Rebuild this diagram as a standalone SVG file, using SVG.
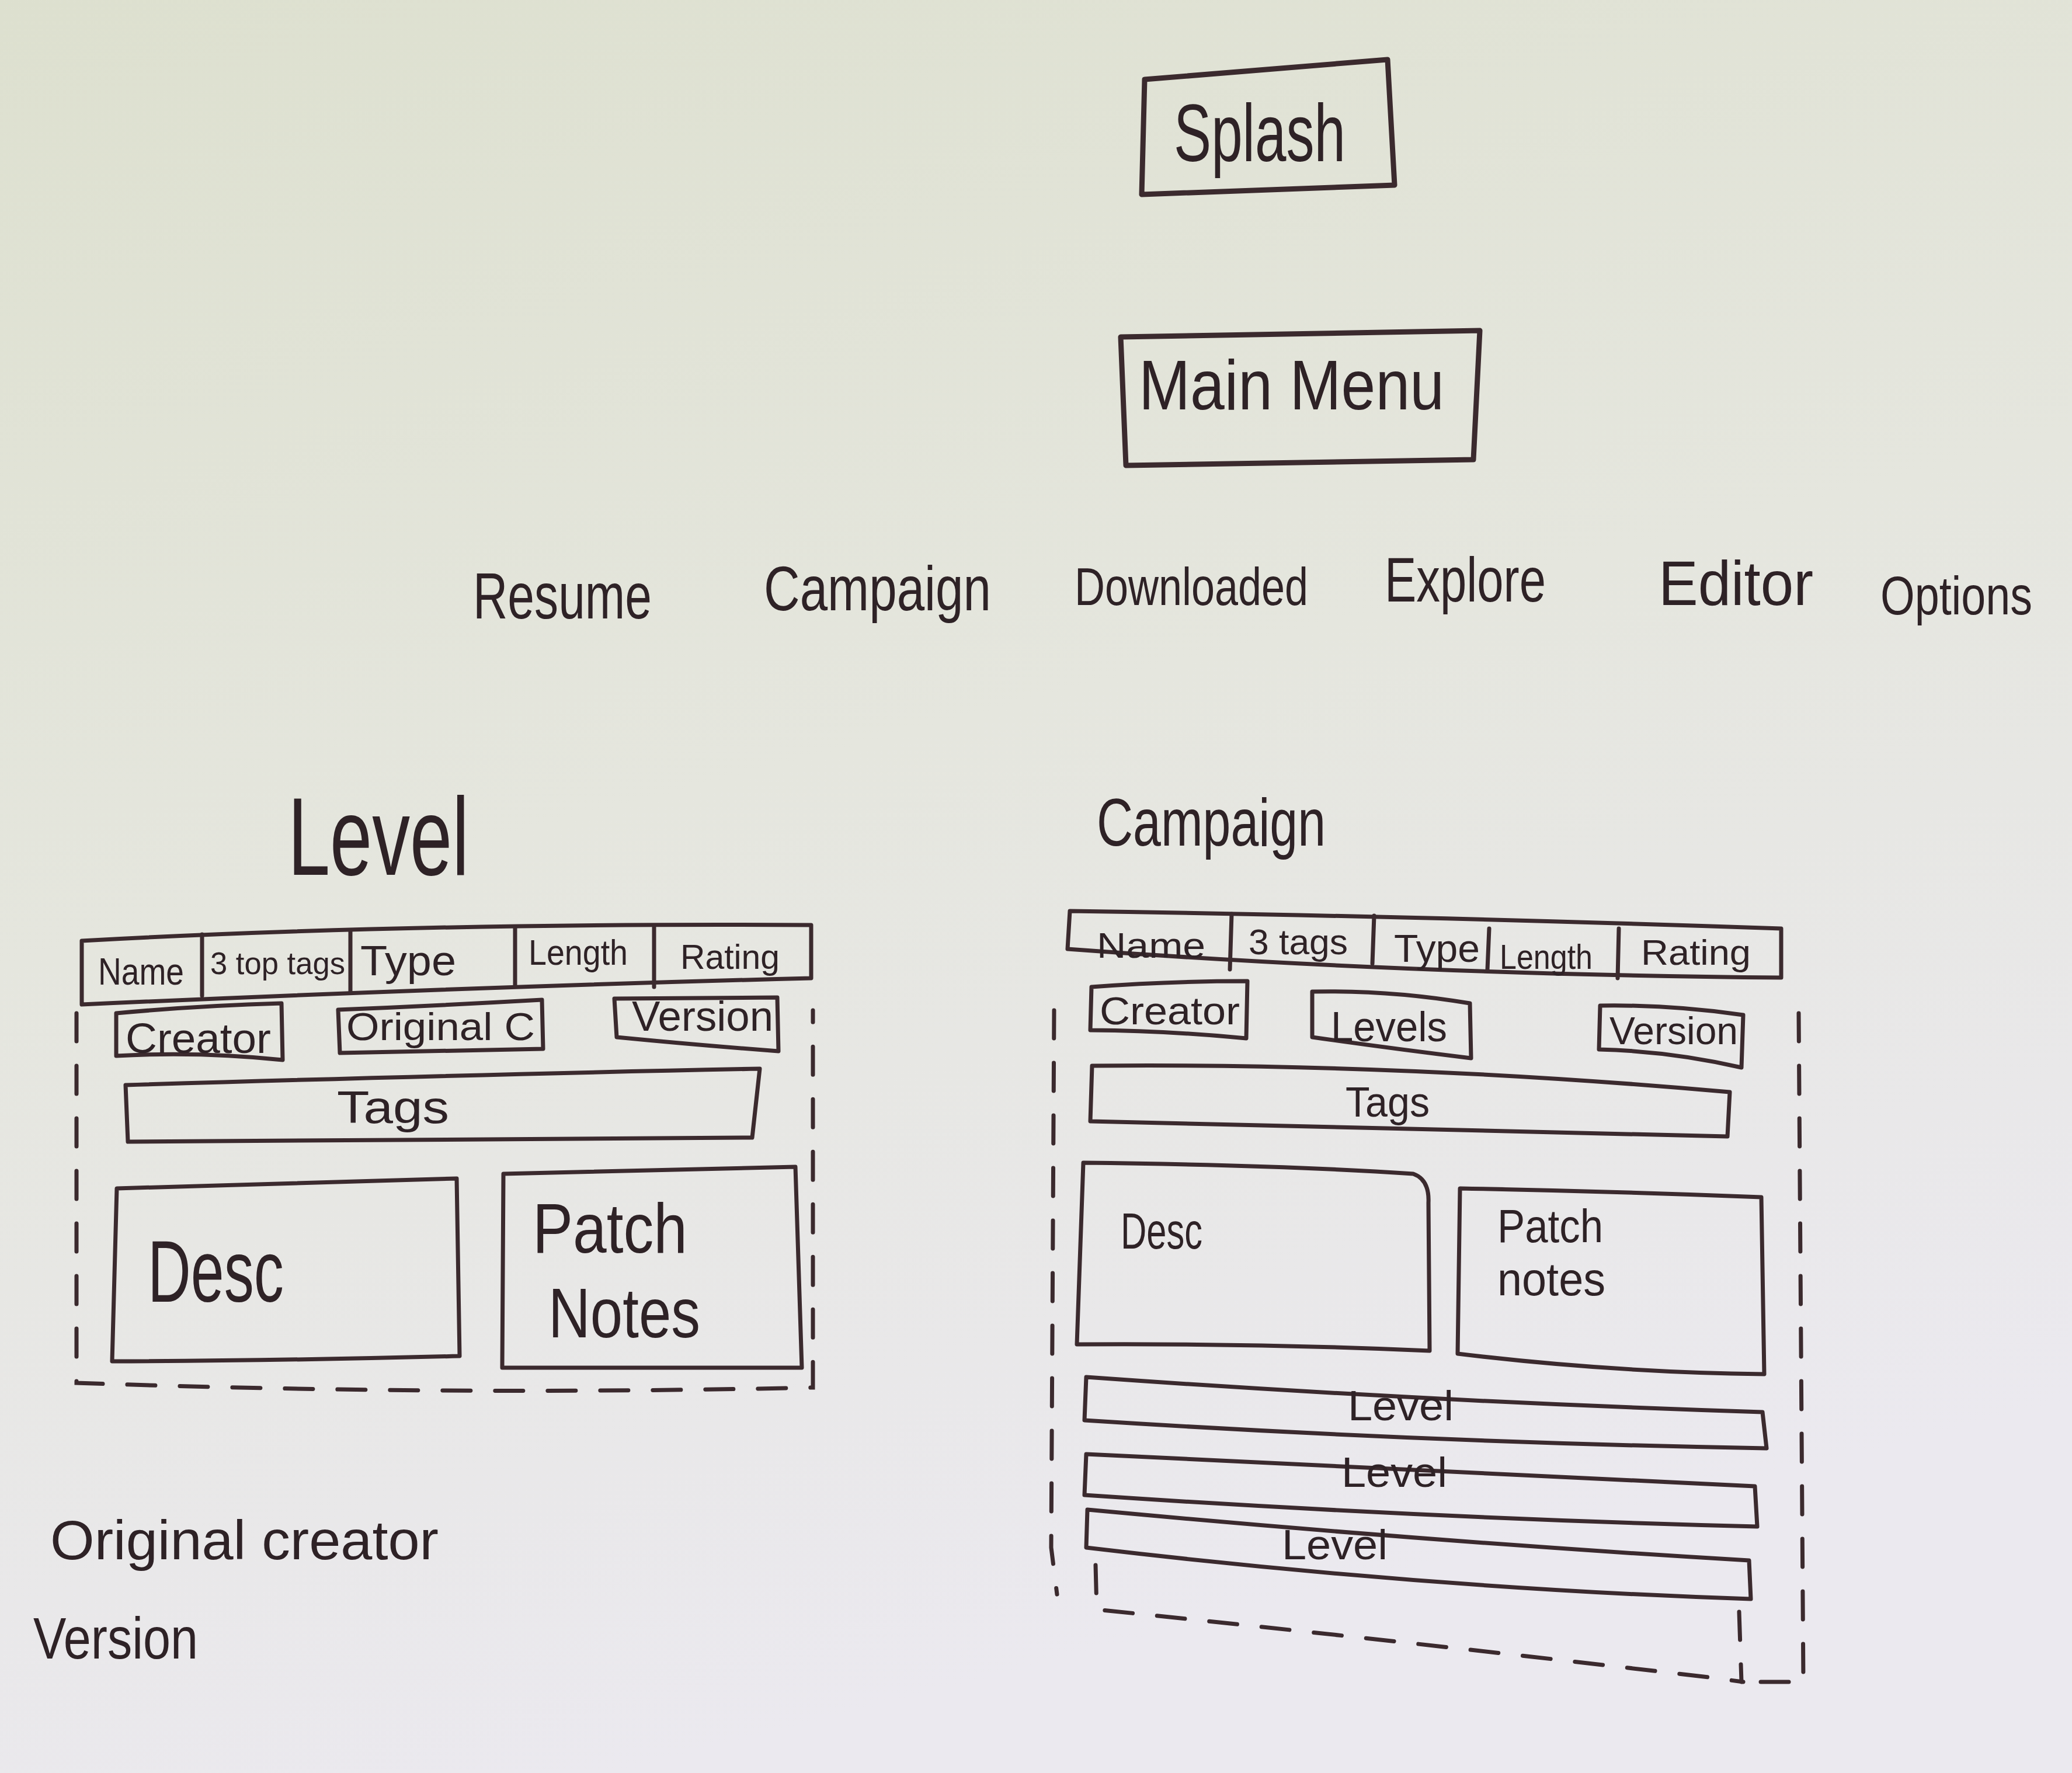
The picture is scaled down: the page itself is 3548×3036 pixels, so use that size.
<svg xmlns="http://www.w3.org/2000/svg" width="3548" height="3036" viewBox="0 0 3548 3036">
<defs>
<linearGradient id="bg" x1="0" y1="0" x2="0.3" y2="1">
<stop offset="0" stop-color="#dde0cf"/>
<stop offset="0.5" stop-color="#e5e6de"/>
<stop offset="1" stop-color="#ebe9ef"/>
</linearGradient>
</defs>
<style>
.ink{fill:none;stroke:#3b2a2e;stroke-width:7;stroke-linejoin:round;stroke-linecap:round}
.thick{stroke-width:9}
.dash{fill:none;stroke:#3b2a2e;stroke-width:7;stroke-dasharray:48 42;stroke-linecap:round}
text{font-family:"Liberation Sans","DejaVu Sans",sans-serif;fill:#2e2226}
</style>
<rect width="3548" height="3036" fill="url(#bg)"/>

<g id="splash">
<path class="ink thick" d="M1960,136 L2376,102 L2388,317 L1955,333 Z"/>
<text x="2010" y="276" font-size="140" textLength="294" lengthAdjust="spacingAndGlyphs">Splash</text>
</g>

<g id="main-menu">
<path class="ink thick" d="M1919,577 L2534,566 L2523,787 L1928,797 Z"/>
<text x="1950" y="701" font-size="120" textLength="523" lengthAdjust="spacingAndGlyphs">Main Menu</text>
</g>

<g id="menu-items">
<text x="810" y="1059" font-size="112" textLength="306" lengthAdjust="spacingAndGlyphs">Resume</text>
<text x="1308" y="1045" font-size="108" textLength="389" lengthAdjust="spacingAndGlyphs">Campaign</text>
<text x="1840" y="1036" font-size="90" textLength="400" lengthAdjust="spacingAndGlyphs">Downloaded</text>
<text x="2371" y="1030" font-size="108" textLength="276" lengthAdjust="spacingAndGlyphs">Explore</text>
<text x="2840" y="1036" font-size="108" textLength="265" lengthAdjust="spacingAndGlyphs">Editor</text>
<text x="3220" y="1052" font-size="92" textLength="260" lengthAdjust="spacingAndGlyphs">Options</text>
</g>

<g id="level-layout">
<text x="493" y="1498" font-size="190" textLength="310" lengthAdjust="spacingAndGlyphs">Level</text>
<path class="ink" d="M140,1611 Q700,1580 1389,1584 L1389,1675 Q800,1690 140,1720 Z"/>
<path class="ink" d="M346,1600 L346,1705 M600,1595 L600,1700 M882,1588 L882,1688 M1120,1588 L1120,1690"/>
<text x="168" y="1686" font-size="64" textLength="147" lengthAdjust="spacingAndGlyphs">Name</text>
<text x="360" y="1668" font-size="54" textLength="231" lengthAdjust="spacingAndGlyphs">3 top tags</text>
<text x="617" y="1670" font-size="72" textLength="164" lengthAdjust="spacingAndGlyphs">Type</text>
<text x="905" y="1652" font-size="62" textLength="170" lengthAdjust="spacingAndGlyphs">Length</text>
<text x="1165" y="1659" font-size="60" textLength="170" lengthAdjust="spacingAndGlyphs">Rating</text>
<path class="ink" d="M199,1735 Q340,1722 482,1718 L484,1815 Q340,1800 199,1808 Z"/>
<text x="215" y="1803" font-size="72" textLength="249" lengthAdjust="spacingAndGlyphs">Creator</text>
<path class="ink" d="M579,1729 Q750,1722 928,1712 L930,1796 Q750,1800 582,1803 Z"/>
<text x="593" y="1781" font-size="66" textLength="323" lengthAdjust="spacingAndGlyphs">Original C</text>
<path class="ink" d="M1052,1710 L1331,1708 L1333,1800 Q1200,1790 1056,1776 Z"/>
<text x="1082" y="1765" font-size="72" textLength="242" lengthAdjust="spacingAndGlyphs">Version</text>
<path class="ink" d="M215,1858 Q800,1840 1301,1830 L1288,1948 Q700,1950 219,1955 Z"/>
<text x="577" y="1923" font-size="78" textLength="192" lengthAdjust="spacingAndGlyphs">Tags</text>
<path class="ink" d="M200,2035 Q500,2025 782,2018 L787,2322 Q480,2330 192,2331 Z"/>
<text x="253" y="2229" font-size="150" textLength="233" lengthAdjust="spacingAndGlyphs">Desc</text>
<path class="ink" d="M862,2010 L1362,1998 L1373,2342 L860,2342 Z"/>
<text x="912" y="2145" font-size="120" textLength="265" lengthAdjust="spacingAndGlyphs">Patch</text>
<text x="939" y="2290" font-size="120" textLength="260" lengthAdjust="spacingAndGlyphs">Notes</text>
<path class="dash" d="M131,1735 L131,2368 Q760,2390 1392,2376 L1392,1730"/>
</g>

<g id="campaign-layout">
<text x="1878" y="1448" font-size="115" textLength="392" lengthAdjust="spacingAndGlyphs">Campaign</text>
<path class="ink" d="M1832,1560 Q2400,1568 3050,1590 L3050,1674 Q2400,1668 1828,1625 Z"/>
<path class="ink" d="M2109,1565 L2106,1660 M2353,1568 L2350,1650 M2550,1590 L2547,1660 M2772,1590 L2770,1675"/>
<text x="1878" y="1640" font-size="62" textLength="186" lengthAdjust="spacingAndGlyphs">Name</text>
<text x="2138" y="1634" font-size="62" textLength="170" lengthAdjust="spacingAndGlyphs">3 tags</text>
<text x="2387" y="1647" font-size="66" textLength="147" lengthAdjust="spacingAndGlyphs">Type</text>
<text x="2568" y="1659" font-size="60" textLength="159" lengthAdjust="spacingAndGlyphs">Length</text>
<text x="2810" y="1652" font-size="62" textLength="188" lengthAdjust="spacingAndGlyphs">Rating</text>
<path class="ink" d="M1869,1690 Q2000,1680 2136,1680 L2134,1778 Q2000,1765 1867,1764 Z"/>
<text x="1883" y="1754" font-size="66" textLength="240" lengthAdjust="spacingAndGlyphs">Creator</text>
<path class="ink" d="M2247,1698 Q2380,1695 2517,1718 L2519,1812 Q2380,1795 2247,1776 Z"/>
<text x="2279" y="1783" font-size="72" textLength="199" lengthAdjust="spacingAndGlyphs">Levels</text>
<path class="ink" d="M2740,1722 Q2860,1720 2985,1738 L2982,1828 Q2860,1800 2738,1797 Z"/>
<text x="2756" y="1788" font-size="66" textLength="220" lengthAdjust="spacingAndGlyphs">Version</text>
<path class="ink" d="M1870,1825 Q2400,1820 2962,1870 L2958,1946 Q2400,1935 1867,1920 Z"/>
<text x="2304" y="1912" font-size="72" textLength="144" lengthAdjust="spacingAndGlyphs">Tags</text>
<path class="ink" d="M1855,1991 Q2200,1995 2420,2010 Q2448,2020 2446,2060 L2448,2313 Q2150,2300 1844,2302 Z"/>
<text x="1919" y="2138" font-size="88" textLength="140" lengthAdjust="spacingAndGlyphs">Desc</text>
<path class="ink" d="M2500,2035 Q2760,2040 3016,2050 L3021,2353 Q2760,2350 2496,2318 Z"/>
<text x="2564" y="2127" font-size="80" textLength="181" lengthAdjust="spacingAndGlyphs">Patch</text>
<text x="2564" y="2218" font-size="80" textLength="185" lengthAdjust="spacingAndGlyphs">notes</text>
<path class="ink" d="M1860,2358 Q2450,2400 3018,2418 L3025,2480 Q2450,2470 1857,2432 Z"/>
<text x="2308" y="2432" font-size="72" textLength="181" lengthAdjust="spacingAndGlyphs">Level</text>
<path class="ink" d="M1860,2490 Q2450,2520 3005,2545 L3009,2614 Q2450,2600 1857,2560 Z"/>
<text x="2297" y="2546" font-size="72" textLength="181" lengthAdjust="spacingAndGlyphs">Level</text>
<path class="ink" d="M1862,2585 Q2450,2640 2995,2672 L2998,2738 Q2450,2720 1860,2650 Z"/>
<text x="2195" y="2670" font-size="72" textLength="181" lengthAdjust="spacingAndGlyphs">Level</text>
<path class="dash" d="M1805,1730 L1800,2650 L1810,2730"/>
<path class="dash" d="M3080,1735 L3088,2880 L2990,2880"/>
<path class="dash" d="M1876,2680 L1878,2756 Q2400,2810 2925,2872 L2985,2880"/>
<path class="dash" d="M2978,2760 L2982,2880"/>
</g>

<g id="notes">
<text x="86" y="2670" font-size="95" textLength="665" lengthAdjust="spacingAndGlyphs">Original creator</text>
<text x="57" y="2840" font-size="100" textLength="282" lengthAdjust="spacingAndGlyphs">Version</text>
</g>
</svg>
